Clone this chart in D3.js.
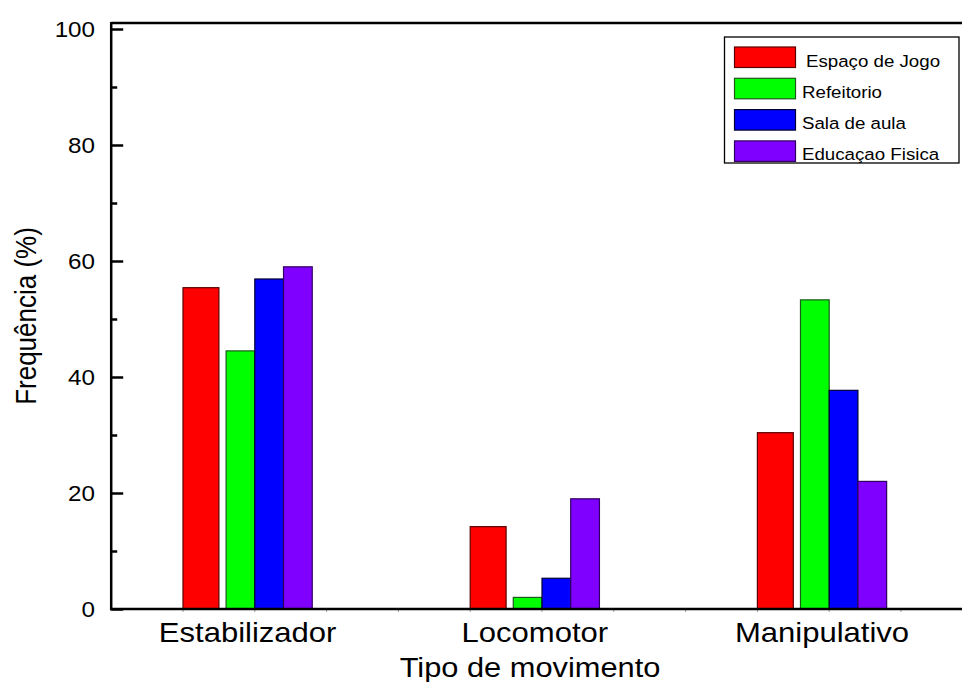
<!DOCTYPE html>
<html>
<head>
<meta charset="utf-8">
<script src="https://cdn.jsdelivr.net/npm/d3@7"></script>
<style>
  html, body { margin: 0; padding: 0; background: #fff; }
  svg { display: block; font-family: "Liberation Sans", Arial, sans-serif; }
</style>
</head>
<body>
<svg id="chart" width="962" height="682"></svg>
<script>
// ---- data ----
const categories = ["Estabilizador", "Locomotor", "Manipulativo"];
const seriesNames = ["Espaço de Jogo", "Refeitorio", "Sala de aula", "Educaçao Fisica"];
const espacoDeJogo   = [55.4, 14.2, 30.4];
const refeitorio     = [44.5, 2.0, 53.3];
const salaDeAula     = [56.9, 5.3, 37.7];
const educacaoFisica = [59.0, 19.0, 22.0];
const yTicks = [0, 20, 40, 60, 80, 100];
const xTitle = "Tipo de movimento";
const yTitle = "Frequência (%)";

// ---- styling / layout ----
const colors = ["#ff0000", "#00ff00", "#0000ff", "#8000ff"];
const strokes = ["#5a0000", "#1a5a1a", "#000030", "#300060"];
const seriesValues = [espacoDeJogo, refeitorio, salaDeAula, educacaoFisica];
// bar start/end within a group, in x-units relative to the group start
const slots = [[0, 0.5], [0.6, 1.0], [1.0, 1.4], [1.4, 1.8]];
const groupStart = i => 1 + 4 * i;

const svg = d3.select("#chart");
const x = d3.scaleLinear().domain([0, 12]).range([111.2, 972.8]);
const y = d3.scaleLinear().domain([0, 100]).range([609, 29]);

// faint minor ticks under the x axis
svg.append("g").selectAll("line")
  .data(d3.range(1, 12))
  .join("line")
  .attr("x1", d => x(d)).attr("x2", d => x(d))
  .attr("y1", y(0)).attr("y2", y(0) + 3)
  .attr("stroke", "#999").attr("stroke-width", 1);

// bars
const barData = [];
seriesValues.forEach((vals, s) => {
  vals.forEach((v, i) => barData.push({ s, i, v }));
});
svg.append("g").selectAll("rect")
  .data(barData)
  .join("rect")
  .attr("x", d => x(groupStart(d.i) + slots[d.s][0]))
  .attr("width", d => x(groupStart(d.i) + slots[d.s][1]) - x(groupStart(d.i) + slots[d.s][0]))
  .attr("y", d => y(d.v))
  .attr("height", d => y(0) - y(d.v))
  .attr("fill", d => colors[d.s])
  .attr("stroke", d => strokes[d.s])
  .attr("stroke-width", 1.2);

// frame: top line, left axis, bottom axis
svg.append("line").attr("x1", x(0)).attr("x2", 962).attr("y1", 23).attr("y2", 23)
  .attr("stroke", "#000").attr("stroke-width", 2.5);
svg.append("line").attr("x1", x(0)).attr("x2", x(0)).attr("y1", 22).attr("y2", y(0) + 1.2)
  .attr("stroke", "#000").attr("stroke-width", 2.5);
svg.append("line").attr("x1", x(0) - 1.2).attr("x2", 962).attr("y1", y(0)).attr("y2", y(0))
  .attr("stroke", "#000").attr("stroke-width", 2.5);

// y ticks (inward)
const yAxis = d3.axisRight(y).tickValues(yTicks).tickSize(12).tickFormat("");
const gy = svg.append("g").attr("transform", `translate(${x(0)},0)`).call(yAxis);
gy.select(".domain").remove();
gy.selectAll(".tick line").attr("stroke", "#000").attr("stroke-width", 2.5);
const yMinor = d3.axisRight(y).tickValues([10, 30, 50, 70, 90]).tickSize(6).tickFormat("");
const gym = svg.append("g").attr("transform", `translate(${x(0)},0)`).call(yMinor);
gym.select(".domain").remove();
gym.selectAll(".tick line").attr("stroke", "#000").attr("stroke-width", 2.5);

// y tick labels
svg.append("g").selectAll("text")
  .data(yTicks)
  .join("text")
  .attr("transform", d => `translate(95,${y(d) + 8}) scale(1.1,1)`)
  .attr("text-anchor", "end")
  .attr("font-size", 22)
  .attr("fill", "#000")
  .text(d => d);

// category labels
svg.append("g").selectAll("text")
  .data(categories)
  .join("text")
  .attr("transform", (d, i) => `translate(${x(groupStart(i) + 0.9)},642) scale(1.15,1)`)
  .attr("text-anchor", "middle")
  .attr("font-size", 27)
  .attr("fill", "#000")
  .text(d => d);

// axis titles
svg.append("text")
  .attr("transform", "translate(530,677) scale(1.1,1)")
  .attr("text-anchor", "middle")
  .attr("font-size", 28)
  .attr("fill", "#000")
  .text(xTitle);
svg.append("text")
  .attr("transform", "translate(35.5,316) rotate(-90) scale(1,1.1)")
  .attr("text-anchor", "middle")
  .attr("font-size", 26)
  .attr("fill", "#000")
  .text(yTitle);

// legend
const lg = svg.append("g");
lg.append("rect").attr("x", 724.5).attr("y", 37).attr("width", 234.5).attr("height", 126)
  .attr("fill", "#fff").attr("stroke", "#000").attr("stroke-width", 1.3);
const rows = lg.selectAll("g.row").data(seriesNames).join("g").attr("class", "row")
  .attr("transform", (d, i) => `translate(0,${47 + i * 31.3})`);
rows.append("rect").attr("x", 734.5).attr("y", 0).attr("width", 61).attr("height", 20.5)
  .attr("fill", (d, i) => colors[i]).attr("stroke", (d, i) => strokes[i]).attr("stroke-width", 1.2);
rows.append("text")
  .attr("transform", (d, i) => `translate(${i === 0 ? 806 : 802},19.5) scale(1.1,1)`)
  .attr("font-size", 17)
  .attr("fill", "#000")
  .text(d => d);
</script>
</body>
</html>
